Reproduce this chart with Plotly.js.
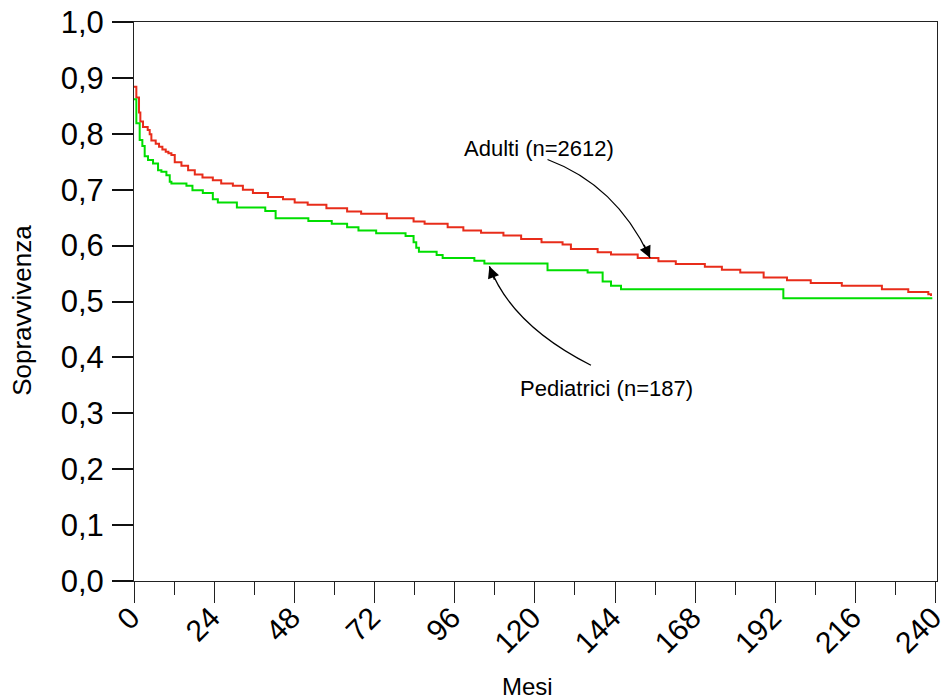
<!DOCTYPE html>
<html>
<head>
<meta charset="utf-8">
<script src="https://cdn.plot.ly/plotly-3.0.1.min.js"></script>
<style>
  html, body { margin: 0; padding: 0; background: #fff; }
  #chart { width: 943px; height: 699px; }
</style>
</head>
<body>
<div id="chart"></div>
<script>
// Kaplan-Meier survival estimates (months, cumulative survival)
const adultiT = [0, 0.7, 1.5, 1.9, 2.7, 4.1, 4.7, 5.2, 6.5, 7.5, 8.5, 9.5, 10.3, 11.2, 12.2, 14.2, 16.2, 18.2, 20.5, 23.6, 26.1, 29.6, 32.6, 35.6, 40.1, 44.6, 48.1, 52.0, 57.6, 63.8, 68.0, 75.7, 83.7, 87.0, 93.9, 98.6, 103.9, 110.6, 115.9, 122.0, 128.3, 130.8, 138.8, 142.8, 150.8, 157.0, 162.2, 170.9, 176.0, 181.5, 188.5, 195.5, 202.6, 211.9, 223.9, 231.8, 237.8, 238.6];
const adultiS = [0.884, 0.865, 0.838, 0.822, 0.812, 0.807, 0.799, 0.788, 0.782, 0.777, 0.772, 0.768, 0.765, 0.762, 0.749, 0.743, 0.735, 0.727, 0.722, 0.717, 0.711, 0.707, 0.700, 0.694, 0.687, 0.683, 0.677, 0.673, 0.667, 0.661, 0.657, 0.649, 0.643, 0.639, 0.633, 0.627, 0.623, 0.618, 0.612, 0.606, 0.602, 0.594, 0.588, 0.584, 0.578, 0.572, 0.567, 0.562, 0.557, 0.552, 0.543, 0.538, 0.533, 0.528, 0.522, 0.517, 0.513, 0.510];

const pediatriciT = [0, 0.7, 1.7, 2.5, 3.2, 4.2, 5.7, 7.2, 8.2, 9.7, 10.7, 11.2, 15.7, 17.5, 20.6, 23.6, 25.1, 30.8, 39.3, 42.4, 52.2, 59.2, 63.8, 67.2, 72.5, 81.3, 83.7, 84.5, 85.3, 90.6, 92.4, 101.9, 104.9, 123.8, 135.8, 140.3, 142.8, 145.8, 194.4, 239.0];
const pediatriciS = [0.862, 0.819, 0.789, 0.778, 0.760, 0.753, 0.747, 0.735, 0.732, 0.726, 0.714, 0.711, 0.707, 0.699, 0.694, 0.683, 0.677, 0.668, 0.662, 0.649, 0.644, 0.639, 0.633, 0.627, 0.622, 0.617, 0.606, 0.596, 0.589, 0.583, 0.578, 0.573, 0.568, 0.556, 0.552, 0.536, 0.528, 0.522, 0.506, 0.506];

const xTicks = [0, 24, 48, 72, 96, 120, 144, 168, 192, 216, 240];
const yTicks = [0, 0.1, 0.2, 0.3, 0.4, 0.5, 0.6, 0.7, 0.8, 0.9, 1.0];

const labelAdulti = 'Adulti (n=2612)';
const labelPediatrici = 'Pediatrici (n=187)';
const xTitle = 'Mesi';
const yTitle = 'Sopravvivenza';

// survival value of a step curve at time t
function survAt(t, T, S) {
  let v = S[0];
  for (let i = 0; i < T.length; i++) { if (T[i] <= t) v = S[i]; }
  return v;
}

const FONT = 'Liberation Sans, Arial, sans-serif';
const RED = 'rgb(232,44,26)';
const GREEN = 'rgb(0,222,0)';

const traces = [
  { x: adultiT, y: adultiS, name: labelAdulti, type: 'scatter', mode: 'lines',
    line: { shape: 'hv', color: RED, width: 2 }, hoverinfo: 'x+y+name' },
  { x: pediatriciT, y: pediatriciS, name: labelPediatrici, type: 'scatter', mode: 'lines',
    line: { shape: 'hv', color: GREEN, width: 2 }, hoverinfo: 'x+y+name' }
];

// curved callout arrows: tail -> control -> head (head lies on the curve)
const aHeadT = 154.5, aHeadS = survAt(aHeadT, adultiT, adultiS);
const pHeadT = 106.4, pHeadS = survAt(pHeadT, pediatriciT, pediatriciS) - 0.005;
const arrowA = { tail: [123.8, 0.754], ctrl: [144.5, 0.708], head: [aHeadT, aHeadS] };
const arrowP = { tail: [136.8, 0.386], ctrl: [113.0, 0.458], head: [pHeadT, pHeadS] };

function curve(a) {
  return {
    type: 'path', xref: 'x', yref: 'y',
    path: `M ${a.tail[0]},${a.tail[1]} Q ${a.ctrl[0]},${a.ctrl[1]} ${a.head[0]},${a.head[1]}`,
    line: { color: '#000', width: 1.3 }
  };
}
function head(a) {
  // arrowhead aligned with the curve tangent at its end
  const pxPerX = 802.4 / 240, pxPerY = 559;
  const dx = (a.head[0] - a.ctrl[0]) * pxPerX;
  const dy = -(a.head[1] - a.ctrl[1]) * pxPerY;
  const len = Math.hypot(dx, dy);
  return {
    x: a.head[0], y: a.head[1], xref: 'x', yref: 'y', text: '',
    showarrow: true, arrowhead: 2, arrowsize: 1.8, arrowwidth: 1.3, arrowcolor: '#000',
    ax: -dx / len * 16, ay: -dy / len * 16, standoff: 0
  };
}

const layout = {
  width: 943, height: 699,
  margin: { l: 134, r: 6, t: 22, b: 118 },
  paper_bgcolor: '#fff', plot_bgcolor: '#fff',
  showlegend: false,
  separators: ', ',
  font: { family: FONT, color: '#000' },
  xaxis: {
    range: [0, 240.4], tickvals: xTicks, ticktext: xTicks.map(String),
    tickangle: -45, tickfont: { size: 30, family: FONT },
    ticklabeloverflow: 'allow', ticklabelstandoff: -15, ticklabelshift: -3,
    ticks: 'outside', ticklen: 21, tickwidth: 1, tickcolor: '#222',
    minor: { dtick: 12, tick0: 0, ticks: 'outside', ticklen: 13, tickwidth: 1, tickcolor: '#222' },
    showline: true, linecolor: '#222', linewidth: 1, mirror: true,
    showgrid: false, zeroline: false
  },
  yaxis: {
    range: [0, 1], tickvals: yTicks, tickformat: '.1f',
    tickfont: { size: 31, family: FONT }, ticklabelstandoff: 2,
    ticks: 'outside', ticklen: 21, tickwidth: 2, tickcolor: '#111',
    showline: true, linecolor: '#222', linewidth: 1, mirror: true,
    showgrid: false, zeroline: false
  },
  shapes: [curve(arrowA), curve(arrowP)],
  annotations: [
    // axis titles
    { xref: 'paper', yref: 'paper', x: -0.1395, y: 0.485, xanchor: 'center', yanchor: 'middle',
      text: yTitle, textangle: -90, showarrow: false, font: { size: 26, family: FONT } },
    { xref: 'paper', yref: 'paper', x: 0.4896, y: -0.188, xanchor: 'center', yanchor: 'middle',
      text: xTitle, showarrow: false, font: { size: 24, family: FONT } },
    // curve labels
    { x: 121.1, y: 0.773, xref: 'x', yref: 'y', text: labelAdulti, showarrow: false,
      font: { size: 22, family: FONT } },
    { x: 141.6, y: 0.345, xref: 'x', yref: 'y', text: labelPediatrici, showarrow: false,
      font: { size: 22, family: FONT } },
    head(arrowA), head(arrowP)
  ]
};

Plotly.newPlot('chart', traces, layout, { staticPlot: true, displayModeBar: false });
</script>
</body>
</html>
